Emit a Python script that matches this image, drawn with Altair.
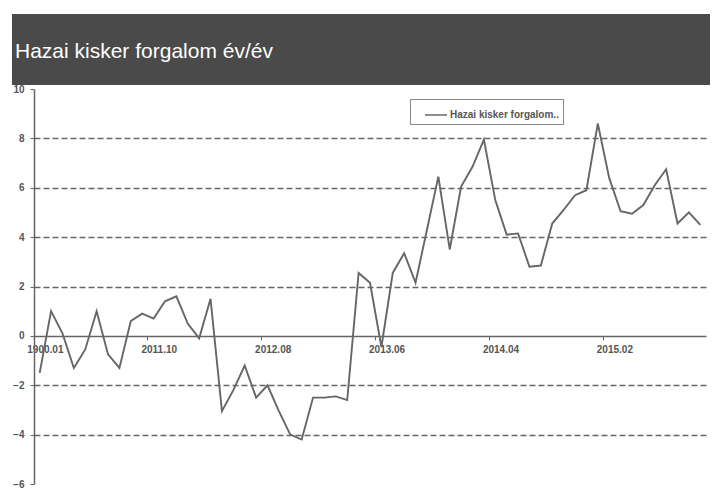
import altair as alt
import pandas as pd

title_text = "Hazai kisker forgalom év/év"
series_name = "Hazai kisker forgalom.."

months = [
    "1900.01", "2011.01", "2011.02", "2011.03", "2011.04", "2011.05", "2011.06",
    "2011.07", "2011.08", "2011.09", "2011.10", "2011.11", "2011.12",
    "2012.01", "2012.02", "2012.03", "2012.04", "2012.05", "2012.06",
    "2012.07", "2012.08", "2012.09", "2012.10", "2012.11", "2012.12",
    "2013.01", "2013.02", "2013.03", "2013.04", "2013.05", "2013.06",
    "2013.07", "2013.08", "2013.09", "2013.10", "2013.11", "2013.12",
    "2014.01", "2014.02", "2014.03", "2014.04", "2014.05", "2014.06",
    "2014.07", "2014.08", "2014.09", "2014.10", "2014.11", "2014.12",
    "2015.01", "2015.02", "2015.03", "2015.04", "2015.05", "2015.06",
    "2015.07", "2015.08", "2015.09", "2015.10",
]

values = [
    -1.5, 1.0, 0.1, -1.3, -0.55, 1.0, -0.75, -1.3, 0.6, 0.9, 0.7, 1.4, 1.6,
    0.5, -0.1, 1.5, -3.05, -2.2, -1.2, -2.5, -2.0, -3.05, -4.0, -4.2,
    -2.5, -2.5, -2.45, -2.6, 2.55, 2.15, -0.45, 2.55, 3.35, 2.15, 4.3,
    6.45, 3.5, 6.05, 6.85, 7.95, 5.5, 4.1, 4.15, 2.8, 2.85, 4.55, 5.1,
    5.7, 5.9, 8.6, 6.4, 5.05, 4.95, 5.3, 6.1, 6.75, 4.55, 5.0, 4.5,
]

x_tick_labels = ["1900.01", "2011.10", "2012.08", "2013.06", "2014.04", "2015.02"]
y_ticks = [-6, -4, -2, 0, 2, 4, 6, 8, 10]
y_domain = [-6, 10]

df = pd.DataFrame({"month": months, "value": values, "series": series_name})

W, H = 672, 395
zero_offset = -H * (0 - y_domain[0]) / (y_domain[1] - y_domain[0])
band = W / len(months)

FONT = "Liberation Sans"
GREY = "#666666"
LABEL = "#555555"

line = alt.Chart(df).mark_line(strokeWidth=1.9).encode(
    x=alt.X(
        "month:O",
        sort=months,
        bandPosition=0.5,
        scale=alt.Scale(type="band", paddingInner=0, paddingOuter=0),
        axis=alt.Axis(
            title=None,
            values=x_tick_labels,
            bandPosition=0,
            labelOffset=band / 2,
            offset=zero_offset,
            labelAngle=0,
            grid=False,
            domainColor=GREY,
            domainWidth=1.5,
            tickColor=GREY,
            tickSize=4,
            labelPadding=5,
            labelFont=FONT,
            labelFontSize=10,
            labelFontWeight="bold",
            labelColor=LABEL,
        ),
    ),
    y=alt.Y(
        "value:Q",
        scale=alt.Scale(domain=y_domain, nice=False, zero=False),
        axis=alt.Axis(
            title=None,
            values=y_ticks,
            grid=True,
            gridDash=[6, 3],
            gridColor=GREY,
            gridWidth=1.3,
            gridOpacity={
                "condition": {
                    "test": "datum.value === 0 || datum.value === 10 || datum.value === -6",
                    "value": 0,
                },
                "value": 1,
            },
            domainColor=GREY,
            domainWidth=1.5,
            tickColor=GREY,
            tickSize=4,
            labelPadding=6,
            labelFont=FONT,
            labelFontSize=10,
            labelFontWeight="bold",
            labelColor=LABEL,
        ),
    ),
    color=alt.Color(
        "series:N",
        scale=alt.Scale(range=[GREY]),
        legend=alt.Legend(
            title=None,
            orient="none",
            legendX=376,
            legendY=10,
            strokeColor="#888888",
            fillColor="white",
            padding=4,
            symbolType="stroke",
            symbolSize=484,
            symbolStrokeWidth=1.5,
            symbolOffset=10,
            labelFont=FONT,
            labelFontSize=10,
            labelFontWeight="bold",
            labelColor=LABEL,
            labelOffset=2,
            labelLimit=300,
        ),
    ),
)

title_df = pd.DataFrame({"t": [title_text]})

banner = alt.Chart(title_df).mark_rect(color="#4a4a4a").encode(
    x=alt.value(-22), x2=alt.value(684), y=alt.value(-75), y2=alt.value(-4)
)

title = alt.Chart(title_df).mark_text(
    align="left", baseline="alphabetic", fontSize=21, font=FONT, color="white"
).encode(x=alt.value(-19), y=alt.value(-31), text="t:N")

chart = alt.layer(banner, title, line).properties(
    width=W,
    height=H,
    padding={"left": 26, "top": 81, "right": 4, "bottom": 4},
    autosize=alt.AutoSizeParams(type="none"),
).configure_view(stroke=None)

chart.save("out.html", embed_options={"renderer": "svg", "actions": False})
